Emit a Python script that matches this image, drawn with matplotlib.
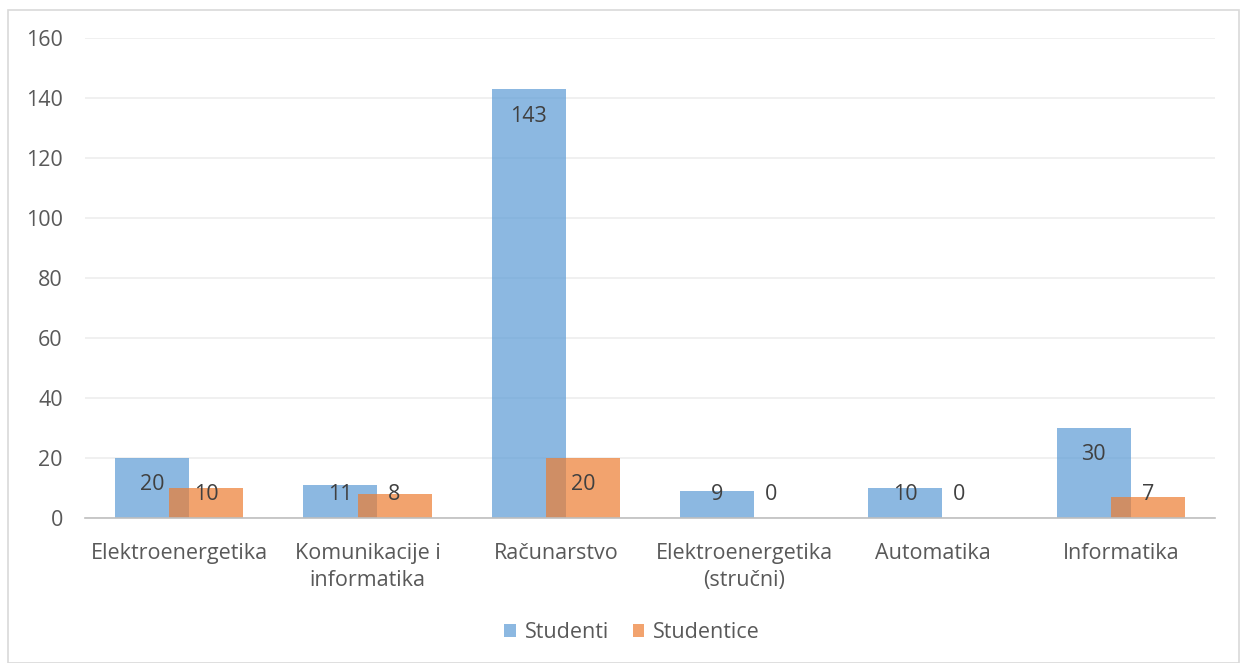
import matplotlib
matplotlib.use("Agg")
import matplotlib.pyplot as plt
import numpy as np
from matplotlib.patches import Rectangle

categories = ["Elektroenergetika", "Komunikacije i\ninformatika", "Računarstvo",
              "Elektroenergetika\n(stručni)", "Automatika", "Informatika"]
studenti = [20, 11, 143, 9, 10, 30]
studentice = [10, 8, 20, 0, 0, 7]
yticks = [0, 20, 40, 60, 80, 100, 120, 140, 160]

plt.rcParams['font.family'] = ['Open Sans', 'DejaVu Sans']
txt = '#595959'
dtxt = '#404040'
fs = 15.5

fig = plt.figure(figsize=(12.4, 6.63), dpi=100)
fig.patches.append(Rectangle((8/1240, 0), 1 - 8/1240 - 0.001, 1 - 10/663,
                             transform=fig.transFigure, fill=False,
                             edgecolor='#D9D9D9', linewidth=1.2))
ax = fig.add_axes([85/1240, 1 - 518/663, (1215-85)/1240, (518-38)/663])

x = np.arange(len(categories))
w = 0.393
off = 0.287
b1 = ax.bar(x - off/2, studenti, w, color='#5B9BD5', alpha=0.7, zorder=2, label='Studenti')
b2 = ax.bar(x + off/2, studentice, w, color='#ED7D31', alpha=0.7, zorder=3, label='Studentice')

for xs, vals in ((x - off/2, studenti), (x + off/2, studentice)):
    for xi, v in zip(xs, vals):
        ax.text(xi, max(v - 9.0, 8.0), str(v), ha='center', va='center',
                fontsize=fs, color=dtxt, zorder=5)

ax.set_xlim(-0.5, len(categories) - 0.5)
ax.set_ylim(0, 160)
ax.set_yticks(yticks)
ax.yaxis.grid(True, color='#EDEDED', linewidth=1.2, zorder=0)
ax.set_axisbelow(True)
for s in ['top', 'right', 'left']:
    ax.spines[s].set_visible(False)
ax.spines['bottom'].set_color('#BFBFBF')
ax.spines['bottom'].set_linewidth(1.2)
ax.spines['bottom'].set_zorder(4)
ax.tick_params(axis='y', length=0, labelsize=fs, labelcolor=txt, pad=16)
ax.tick_params(axis='x', length=0, labelsize=fs, labelcolor=txt, pad=18)
ax.set_xticks(x)
ax.set_xticklabels(categories, linespacing=1.4)

fig.legend(handles=[b1, b2], loc='center', bbox_to_anchor=(632/1240, 1 - 633/663),
           ncol=2, frameon=False, fontsize=fs, labelcolor=txt,
           handlelength=0.55, handleheight=0.55, handletextpad=0.4, columnspacing=1.1)

fig.savefig('out.png', dpi=100)
